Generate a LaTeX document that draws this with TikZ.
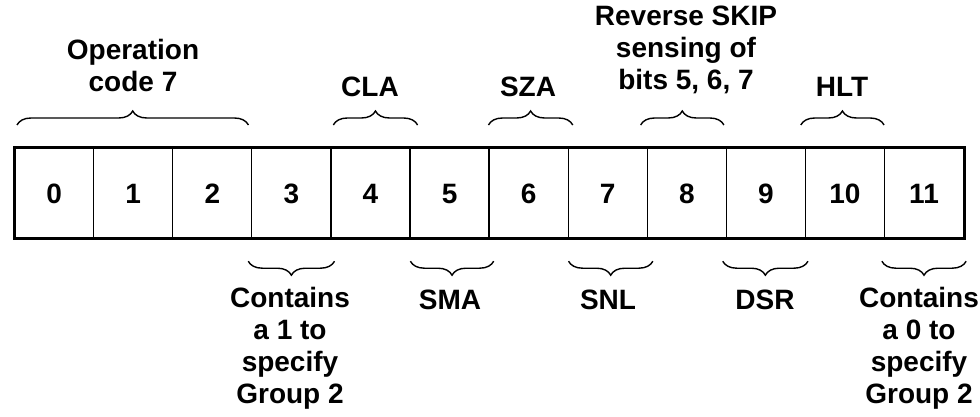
\documentclass[tikz,border=0pt]{standalone}
\usepackage{fontspec}
\setmainfont{Liberation Sans}
\usetikzlibrary{decorations.pathreplacing}
\begin{document}
\begin{tikzpicture}[x=1pt,y=-1pt,
 cell/.style={draw, line width=1.2pt, minimum width=79.08pt, minimum height=89pt, inner sep=0pt, text height=20pt, text depth=0pt, font=\bfseries\fontsize{28}{32}\selectfont, anchor=north west},
 lbl/.style={font=\bfseries\fontsize{28}{32}\selectfont, align=center, inner sep=0pt},
 upbrace/.style={decorate, decoration={brace, amplitude=14pt}, line width=1.4pt},
 downbrace/.style={decorate, decoration={brace, amplitude=14pt, mirror}, line width=1.4pt}]
\useasboundingbox (0,0) rectangle (980,417);
\foreach \i in {0,...,11} \node[cell] (c\i) at ({14+79.08*\i},148) {\i};
\draw[line width=3pt] (c0.north west) rectangle (c11.south east);
% top braces
\draw[upbrace] ([xshift=3pt,yshift=23pt]c0.north west) -- ([xshift=-4pt,yshift=23pt]c2.north east);
\draw[upbrace] ([xshift=3pt,yshift=23pt]c4.north west) -- ([xshift=7pt,yshift=23pt]c4.north east);
\draw[upbrace] ([xshift=0pt,yshift=23pt]c6.north west) -- ([xshift=4pt,yshift=23pt]c6.north east);
\draw[upbrace] ([xshift=-6pt,yshift=23pt]c8.north west) -- ([xshift=-3pt,yshift=23pt]c8.north east);
\draw[upbrace] ([xshift=-4pt,yshift=23pt]c10.north west) -- ([xshift=-1pt,yshift=23pt]c10.north east);
% bottom braces
\draw[downbrace] ([xshift=-3pt,yshift=-23pt]c3.south west) -- ([xshift=3pt,yshift=-23pt]c3.south east);
\draw[downbrace] ([xshift=1pt,yshift=-23pt]c5.south west) -- ([xshift=4pt,yshift=-23pt]c5.south east);
\draw[downbrace] ([xshift=1pt,yshift=-23pt]c7.south west) -- ([xshift=5pt,yshift=-23pt]c7.south east);
\draw[downbrace] ([xshift=-3pt,yshift=-23pt]c9.south west) -- ([xshift=2pt,yshift=-23pt]c9.south east);
\draw[downbrace] ([xshift=-2pt,yshift=-23pt]c11.south west) -- ([xshift=2pt,yshift=-23pt]c11.south east);
% labels
\node[lbl] (opc) at (133,65) {Operation\\code 7};
\node[lbl] (cla) at (370,87) {CLA};
\node[lbl] (sza) at (528,87) {SZA};
\node[lbl] (rss) at (686,50) {Reverse SKIP\\sensing of\\bits 5, 6, 7};
\node[lbl] (hlt) at (842,87) {HLT};
\node[lbl] (g2a) at (290,348) {Contains\\a 1 to\\specify\\Group 2};
\node[lbl] (sma) at (450,300) {SMA};
\node[lbl] (snl) at (608,300) {SNL};
\node[lbl] (dsr) at (765,300) {DSR};
\node[lbl] (g2b) at (919,348) {Contains\\a 0 to\\specify\\Group 2};
\end{tikzpicture}
\end{document}
